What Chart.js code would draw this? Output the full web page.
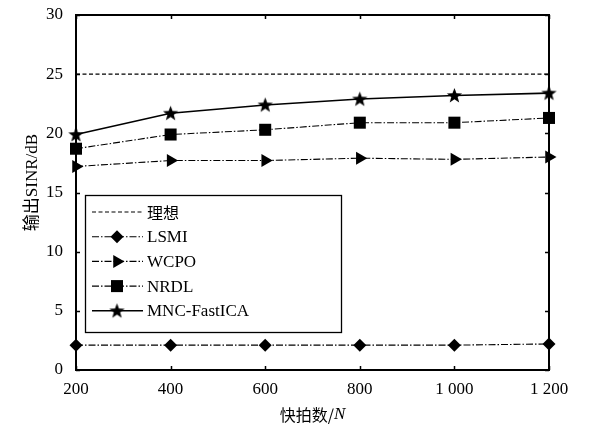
<!DOCTYPE html>
<html>
<head>
<meta charset="utf-8">
<script src="https://cdn.jsdelivr.net/npm/chart.js@4/dist/chart.umd.min.js"></script>
<style>
  html, body { margin: 0; padding: 0; background: #fff; }
  #wrap { width: 590px; height: 427px; }
</style>
</head>
<body>
<div id="wrap"><canvas id="sinrChart" width="590" height="427"></canvas></div>
<script>
// chart data
const snapshots = [200, 400, 600, 800, 1000, 1200];
const idealSinr = [25, 25, 25, 25, 25, 25];
const lsmiSinr = [2.1, 2.1, 2.1, 2.1, 2.1, 2.2];
const wcpoSinr = [17.2, 17.7, 17.7, 17.9, 17.8, 18.0];
const nrdlSinr = [18.7, 19.9, 20.3, 20.9, 20.9, 21.3];
const mncSinr = [19.9, 21.7, 22.4, 22.9, 23.2, 23.4];
const seriesNames = ['理想', 'LSMI', 'WCPO', 'NRDL', 'MNC-FastICA'];
const yTicks = [0, 5, 10, 15, 20, 25, 30];

const serif = "'Liberation Serif', 'Times New Roman', 'Noto Sans CJK SC', serif";

// filled five point star for the MNC-FastICA markers
function makeStar(size) {
  const c = document.createElement('canvas');
  c.width = size; c.height = size;
  const g = c.getContext('2d');
  const cx = size / 2, cy = size / 2 + 0.5;
  const outer = size / 2 - 0.5, inner = outer * 0.42;
  g.beginPath();
  for (let i = 0; i < 10; i++) {
    const r = i % 2 === 0 ? outer : inner;
    const a = -Math.PI / 2 + i * Math.PI / 5;
    const px = cx + r * Math.cos(a), py = cy + r * Math.sin(a);
    if (i === 0) g.moveTo(px, py); else g.lineTo(px, py);
  }
  g.closePath();
  g.fillStyle = '#000';
  g.fill();
  return c;
}
const starImg = makeStar(17);

function toPoints(values) {
  return values.map((v, i) => ({ x: snapshots[i], y: v }));
}

const dashDot = [7, 2, 1.5, 2];

const datasets = [
  { label: seriesNames[0], data: toPoints(idealSinr), borderDash: [4, 2.5], borderWidth: 1.2,
    pointRadius: 0, pointStyle: false },
  { label: seriesNames[1], data: toPoints(lsmiSinr), borderDash: dashDot, borderWidth: 1.1,
    pointStyle: 'rectRot', pointRadius: 6.5 },
  { label: seriesNames[2], data: toPoints(wcpoSinr), borderDash: dashDot, borderWidth: 1.1,
    pointStyle: 'triangle', pointRotation: 90, pointRadius: 7.5 },
  { label: seriesNames[3], data: toPoints(nrdlSinr), borderDash: dashDot, borderWidth: 1.1,
    pointStyle: 'rect', pointRadius: 8.5 },
  { label: seriesNames[4], data: toPoints(mncSinr), borderWidth: 1.6,
    pointStyle: starImg, pointRadius: 8 }
].map(d => Object.assign({
  borderColor: '#000', backgroundColor: '#000', pointBorderWidth: 0,
  pointBackgroundColor: '#000', pointBorderColor: '#000', fill: false, tension: 0, clip: false
}, d));

// frame, inward ticks, axis titles and the boxed legend
const framePlugin = {
  id: 'frame',
  afterDatasetsDraw(chart) {
    const { ctx, chartArea: a, scales } = chart;
    ctx.save();
    ctx.strokeStyle = '#000';
    ctx.lineWidth = 2;
    ctx.strokeRect(a.left, a.top, a.right - a.left, a.bottom - a.top);

    ctx.lineWidth = 1.5;
    const tl = 4;
    scales.x.ticks.forEach(t => {
      const px = Math.round(scales.x.getPixelForValue(t.value)) + 0.5;
      ctx.beginPath();
      ctx.moveTo(px, a.bottom); ctx.lineTo(px, a.bottom - tl);
      ctx.moveTo(px, a.top); ctx.lineTo(px, a.top + tl);
      ctx.stroke();
    });
    scales.y.ticks.forEach(t => {
      const py = Math.round(scales.y.getPixelForValue(t.value)) + 0.5;
      ctx.beginPath();
      ctx.moveTo(a.left, py); ctx.lineTo(a.left + tl, py);
      ctx.moveTo(a.right, py); ctx.lineTo(a.right - tl, py);
      ctx.stroke();
    });

    // x title with italic N
    ctx.fillStyle = '#000';
    ctx.textBaseline = 'middle';
    const xTitleY = 415;
    const cjkFont = "16px 'Noto Sans CJK SC', sans-serif";
    const nFont = "italic 17px " + serif;
    ctx.font = cjkFont;
    const part1 = '快拍数/';
    const w1 = ctx.measureText(part1).width;
    ctx.font = nFont;
    const w2 = ctx.measureText('N').width;
    let sx = (a.left + a.right) / 2 - (w1 + w2) / 2;
    ctx.font = cjkFont;
    ctx.textAlign = 'left';
    ctx.fillText(part1, sx, xTitleY);
    ctx.font = nFont;
    ctx.fillText('N', sx + w1, xTitleY);

    // y title
    ctx.save();
    ctx.translate(33, (a.top + a.bottom) / 2 - 10);
    ctx.rotate(-Math.PI / 2);
    ctx.textAlign = 'center';
    ctx.font = "17px " + serif;
    ctx.fillText('输出SINR/dB', 0, 0);
    ctx.restore();

    // legend box
    const bx = a.left + 9, by = a.top + 180, bw = 256, bh = 137;
    ctx.fillStyle = '#fff';
    ctx.fillRect(bx, by, bw, bh);
    ctx.lineWidth = 1.3;
    ctx.strokeRect(bx + 0.5, by + 0.5, bw, bh);
    const drawPoint = Chart.helpers && Chart.helpers.drawPoint;
    chart.data.datasets.forEach((ds, i) => {
      const ry = by + 17 + i * 24.7;
      ctx.save();
      ctx.strokeStyle = '#000';
      ctx.lineWidth = ds.borderWidth;
      ctx.setLineDash(ds.borderDash || []);
      ctx.beginPath();
      ctx.moveTo(bx + 7, ry); ctx.lineTo(bx + 58, ry);
      ctx.stroke();
      ctx.restore();
      if (ds.pointStyle && drawPoint) {
        ctx.save();
        ctx.fillStyle = '#000';
        ctx.strokeStyle = '#000';
        drawPoint(ctx, { pointStyle: ds.pointStyle, rotation: ds.pointRotation || 0,
          radius: ds.pointRadius, borderWidth: 0 }, bx + 32, ry);
        ctx.restore();
      }
      ctx.fillStyle = '#000';
      ctx.textAlign = 'left';
      ctx.textBaseline = 'middle';
      ctx.font = (i === 0 ? "16px 'Noto Sans CJK SC', sans-serif" : "17px " + serif);
      ctx.fillText(ds.label, bx + 62, ry + 1);
    });
    ctx.restore();
  }
};

new Chart(document.getElementById('sinrChart'), {
  type: 'line',
  data: { datasets: datasets },
  options: {
    responsive: false,
    animation: false,
    layout: { padding: { left: 0, top: 15, right: 41, bottom: 0 } },
    plugins: { legend: { display: false }, tooltip: { enabled: false } },
    scales: {
      x: {
        type: 'linear', min: 200, max: 1200,
        grid: { display: false, drawTicks: false },
        border: { display: false },
        ticks: {
          stepSize: 200, padding: 9, color: '#000', maxRotation: 0,
          font: { family: serif, size: 17 },
          callback: v => String(v).replace(/\B(?=(\d{3})+(?!\d))/g, ' ')
        },
        afterFit: s => { s.height = 57; s.paddingLeft = 0; s.paddingRight = 0; }
      },
      y: {
        type: 'linear', min: 0, max: 30,
        grid: { display: false, drawTicks: false },
        border: { display: false },
        afterBuildTicks: s => { s.ticks = yTicks.map(v => ({ value: v })); },
        ticks: { padding: 13, color: '#000', font: { family: serif, size: 17 } },
        afterFit: s => { s.width = 76; s.paddingTop = 0; s.paddingBottom = 0; }
      }
    }
  },
  plugins: [framePlugin]
});
</script>
</body>
</html>
